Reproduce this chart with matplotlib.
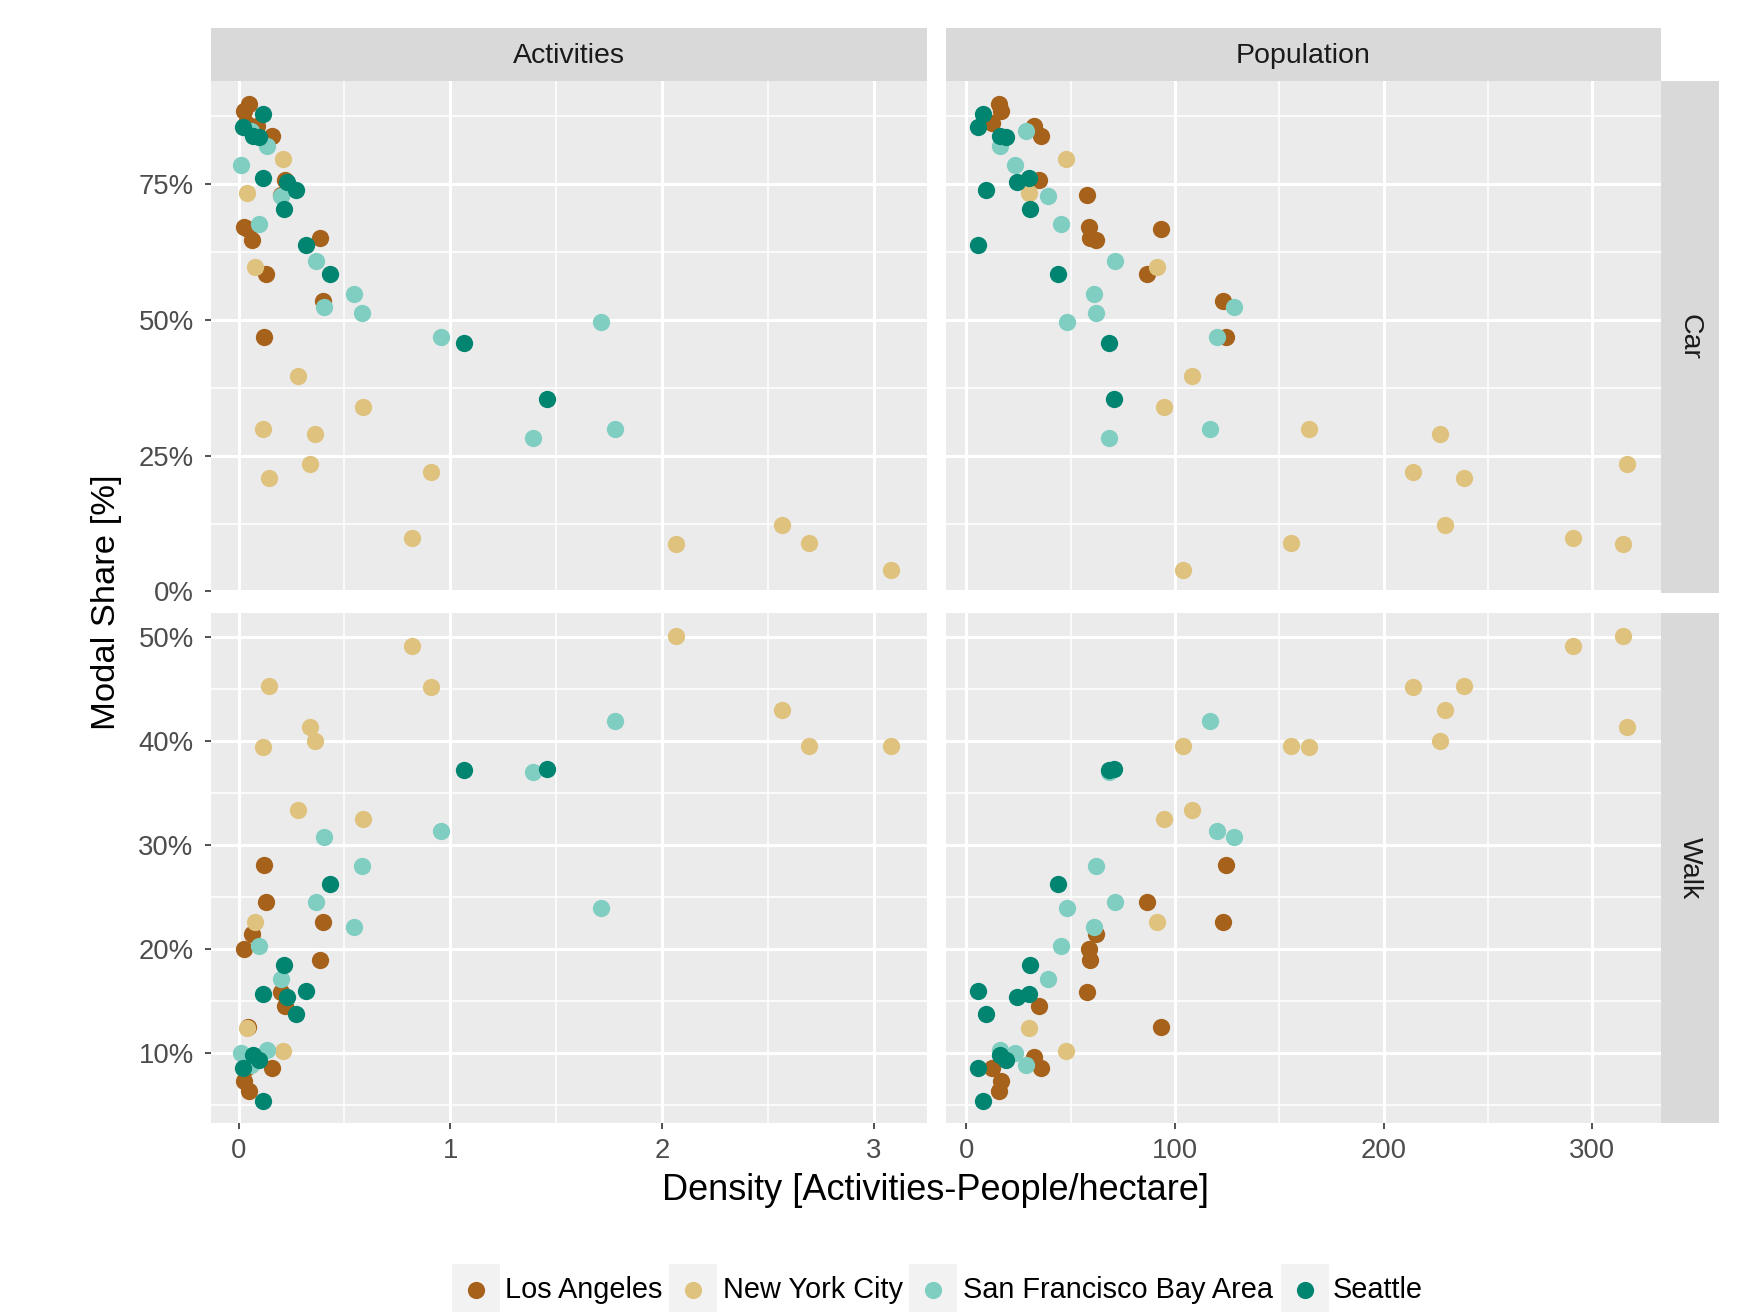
import matplotlib
matplotlib.use("Agg")
import matplotlib.pyplot as plt
from matplotlib.ticker import FuncFormatter, MultipleLocator, FixedLocator
from matplotlib.patches import Rectangle
from matplotlib.lines import Line2D

plt.rcParams['font.family'] = ['Liberation Sans', 'DejaVu Sans']

# ---------------- data ----------------
cities = ["Los Angeles", "New York City", "San Francisco Bay Area", "Seattle"]
city_colors = ["#A6611A", "#DFC27D", "#80CDC1", "#018571"]

# Los Angeles: density of activities, population density, car share, walk share
la_act = [0.121, 0.397, 0.128, 0.043, 0.066, 0.027, 0.384, 0.200, 0.221, 0.159, 0.085, 0.035, 0.050, 0.027]
la_pop = [124.6, 123.2, 86.8, 93.2, 62.0, 58.7, 59.0, 57.9, 34.7, 35.6, 32.5, 12.3, 15.8, 16.5]
la_car = [46.9, 53.5, 58.5, 66.8, 64.8, 67.2, 65.0, 73.0, 75.7, 83.8, 85.8, 86.2, 89.7, 88.4]
la_walk = [28.1, 22.6, 24.5, 12.5, 21.5, 20.0, 19.0, 15.9, 14.5, 8.6, 9.6, 8.6, 6.4, 7.3]

# New York City
ny_act = [0.820, 2.065, 2.695, 3.080, 2.568, 0.908, 0.145, 0.338, 0.360, 0.116, 0.587, 0.280, 0.077, 0.040, 0.208]
ny_pop = [290.6, 315.0, 155.8, 103.6, 229.5, 214.0, 238.4, 316.8, 227.0, 164.1, 94.5, 108.2, 91.3, 30.0, 47.6]
ny_car = [9.9, 8.7, 9.0, 3.9, 12.3, 21.9, 20.9, 23.4, 29.0, 29.9, 33.9, 39.7, 59.7, 73.3, 79.7]
ny_walk = [49.1, 50.1, 39.5, 39.5, 43.0, 45.2, 45.3, 41.3, 40.0, 39.4, 32.5, 33.4, 22.6, 12.4, 10.2]

# San Francisco Bay Area
sf_act = [1.777, 1.389, 1.712, 0.958, 0.402, 0.584, 0.547, 0.366, 0.095, 0.203, 0.010, 0.133, 0.060]
sf_pop = [116.8, 68.2, 48.4, 120.3, 128.2, 61.9, 61.1, 71.4, 45.2, 39.2, 23.2, 15.9, 28.5]
sf_car = [29.9, 28.3, 49.7, 46.9, 52.4, 51.3, 54.8, 60.9, 67.7, 72.8, 78.6, 82.1, 84.8]
sf_walk = [41.9, 37.0, 24.0, 31.4, 30.8, 28.0, 22.1, 24.5, 20.3, 17.1, 10.0, 10.3, 8.9]

# Seattle
se_act = [0.114, 0.019, 0.070, 0.098, 0.114, 0.231, 0.271, 0.216, 0.321, 0.434, 1.064, 1.459]
se_pop = [7.9, 5.4, 16.3, 19.0, 29.8, 24.4, 9.5, 30.4, 5.4, 44.1, 68.5, 70.8]
se_car = [87.9, 85.6, 83.9, 83.6, 76.2, 75.4, 74.0, 70.4, 63.8, 58.4, 45.7, 35.5]
se_walk = [5.4, 8.6, 9.8, 9.4, 15.7, 15.4, 13.8, 18.5, 16.0, 26.3, 37.2, 37.3]

col_labels = ["Activities", "Population"]
row_labels = ["Car", "Walk"]
act_ticks = [0, 1, 2, 3]
pop_ticks = [0, 100, 200, 300]
car_ticks = [0, 25, 50, 75]
walk_ticks = [10, 20, 30, 40, 50]

city_data = [
    (la_act, la_pop, la_car, la_walk),
    (ny_act, ny_pop, ny_car, ny_walk),
    (sf_act, sf_pop, sf_car, sf_walk),
    (se_act, se_pop, se_car, se_walk),
]

# ---------------- layout ----------------
W, H = 1761, 1312
fig = plt.figure(figsize=(W / 100, H / 100), dpi=100)
fig.patch.set_facecolor("white")

def fx(px):
    return px / W

def fy(py):
    return 1 - py / H

col_x = [(211, 926.5), (945.6, 1661)]
row_y = [(81, 593), (613, 1123)]
xlims = [(-0.13, 3.25), (-10, 333)]
ylims = [(-0.3, 94.0), (3.3, 52.3)]
xticks = [act_ticks, pop_ticks]
yticks = [car_ticks, walk_ticks]
xminor = [0.5, 50]
yminor = [12.5, 5]

panel_bg = "#EBEBEB"
strip_bg = "#D9D9D9"
tick_col = "#4D4D4D"
FS = 19.8
MS = 155

for r in range(2):
    for c in range(2):
        x0, x1 = col_x[c]
        y0, y1 = row_y[r]
        ax = fig.add_axes([fx(x0), fy(y1), fx(x1) - fx(x0), (y1 - y0) / H])
        ax.set_facecolor(panel_bg)
        for s in ax.spines.values():
            s.set_visible(False)
        ax.set_xlim(*xlims[c])
        ax.set_ylim(*ylims[r])
        ax.xaxis.set_major_locator(FixedLocator(xticks[c]))
        ax.yaxis.set_major_locator(FixedLocator(yticks[r]))
        ax.xaxis.set_minor_locator(MultipleLocator(xminor[c]))
        ax.yaxis.set_minor_locator(MultipleLocator(yminor[r]))
        ax.grid(which="major", color="white", linewidth=2.2)
        ax.grid(which="minor", color="white", linewidth=1.1)
        ax.set_axisbelow(True)
        ax.tick_params(which="minor", length=0)
        ax.tick_params(which="major", length=4.5, width=1.2, color="#333333",
                       labelsize=FS, labelcolor=tick_col)
        ax.tick_params(axis="x", pad=6)
        ax.tick_params(axis="y", pad=8)
        ax.yaxis.set_major_formatter(FuncFormatter(lambda v, p: f"{v:.0f}%"))
        if r == 0:
            ax.tick_params(axis="x", length=0, labelbottom=False)
        if c == 1:
            ax.tick_params(axis="y", length=0, labelleft=False)

        for (act, pop, car, walk), colr in zip(city_data, city_colors):
            xs = act if c == 0 else pop
            ys = car if r == 0 else walk
            ax.scatter(xs, ys, s=MS, color=colr, linewidths=0, zorder=3)

# top strips
for c in range(2):
    x0, x1 = col_x[c]
    fig.patches.append(Rectangle((fx(x0), fy(81)), fx(x1) - fx(x0), 53 / H,
                                 transform=fig.transFigure, facecolor=strip_bg,
                                 edgecolor="none"))
    fig.text(fx((x0 + x1) / 2), fy(56), col_labels[c], ha="center", va="center",
             fontsize=20.5, color="#1A1A1A")

# right strips
for r in range(2):
    y0, y1 = row_y[r]
    fig.patches.append(Rectangle((fx(1661), fy(y1)), fx(1719) - fx(1661), (y1 - y0) / H,
                                 transform=fig.transFigure, facecolor=strip_bg,
                                 edgecolor="none"))
    fig.text(fx(1690), fy((y0 + y1) / 2), row_labels[r], ha="center", va="center",
             rotation=-90, fontsize=20.5, color="#1A1A1A")

# axis titles
fig.text(fx(936), fy(1191), "Density [Activities-People/hectare]", ha="center",
         va="center", fontsize=26.0, color="black")
fig.text(fx(107), fy(602), "Modal Share [%]", ha="center", va="center",
         rotation=90, fontsize=24.8, color="black")

# legend
dot_x = [476, 693, 933, 1305]
text_x = [505, 723, 963, 1333]
leg_y = 1290
for name, colr, dx, tx in zip(cities, city_colors, dot_x, text_x):
    fig.patches.append(Rectangle((fx(dx - 24), fy(1320)), 48 / W, 56 / H,
                                 transform=fig.transFigure, facecolor="#F2F2F2",
                                 edgecolor="none"))
    fig.lines.append(Line2D([fx(dx)], [fy(leg_y)], transform=fig.transFigure,
                            marker="o", markersize=12.4, color=colr,
                            markeredgewidth=0, linestyle="none"))
    fig.text(fx(tx), fy(leg_y), name, ha="left", va="center", fontsize=20.8,
             color="black")

fig.savefig("out.png", dpi=100, facecolor="white")
